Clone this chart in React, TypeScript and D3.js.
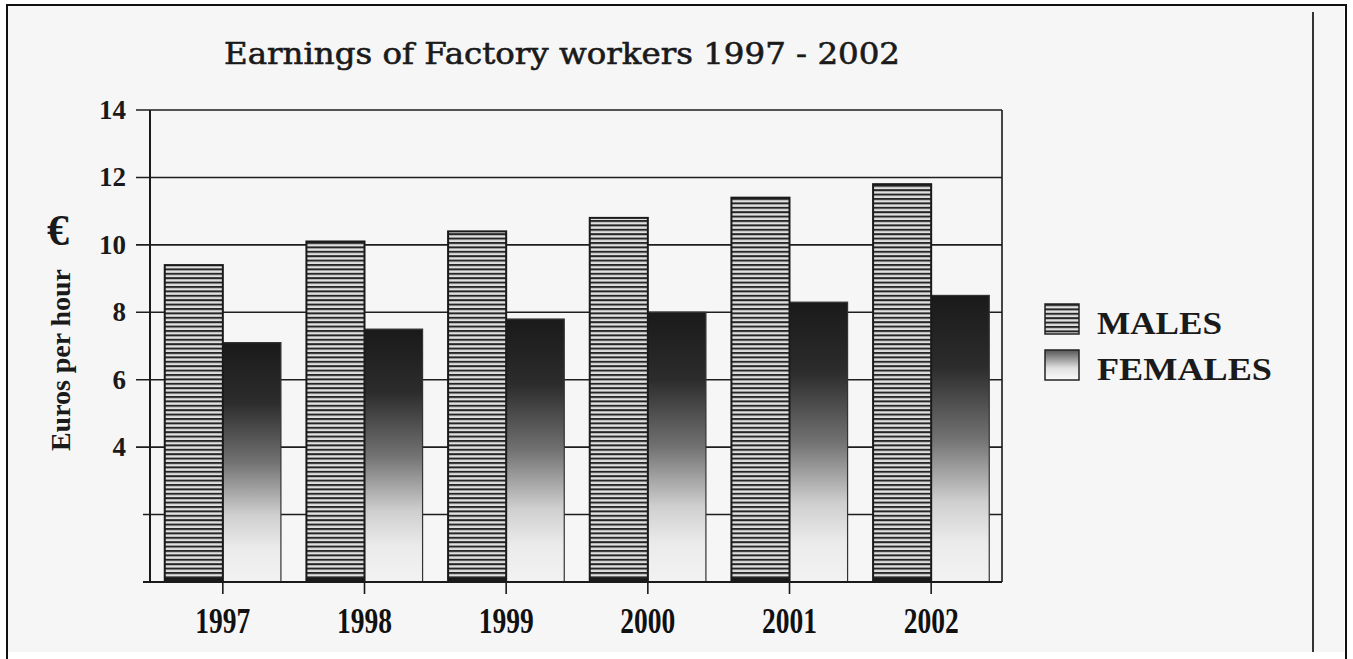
import { useEffect, useRef } from 'react';
import * as d3 from 'd3';

const years = ['1997', '1998', '1999', '2000', '2001', '2002'];
const males = [9.4, 10.1, 10.4, 10.8, 11.4, 11.8];
const females = [7.1, 7.5, 7.8, 8.0, 8.3, 8.5];
const yTicks = [0, 2, 4, 6, 8, 10, 12, 14];
const yLabels = [4, 6, 8, 10, 12, 14];
const seriesNames = ['MALES', 'FEMALES'];

const W = 1353;
const H = 659;

export default function App() {
  const svgRef = useRef<SVGSVGElement>(null);

  useEffect(() => {
    if (!svgRef.current) return;
    const svg = d3.select(svgRef.current);
    svg.selectAll('*').remove();

    const left = 150;
    const right = 1002;
    const top = 110;
    const bottom = 582;
    const serif = '"Liberation Serif", "Times New Roman", serif';

    const x = d3.scaleBand<string>().domain(years).range([152, right]).paddingInner(0.18).paddingOuter(0.09);
    const sub = d3.scaleBand<string>().domain(seriesNames).range([0, x.bandwidth()]);
    const y = d3.scaleLinear().domain([0, 14]).range([bottom, top]);

    // patterns
    const defs = svg.append('defs');
    const stripes = defs
      .append('pattern')
      .attr('id', 'stripes')
      .attr('patternUnits', 'userSpaceOnUse')
      .attr('width', 8)
      .attr('height', 4.4);
    stripes.append('rect').attr('width', 8).attr('height', 4.4).attr('fill', '#e0e0e0');
    stripes.append('rect').attr('y', 0).attr('width', 8).attr('height', 2).attr('fill', '#262626');

    const grad = defs
      .append('linearGradient')
      .attr('id', 'fem')
      .attr('x1', 0)
      .attr('y1', 0)
      .attr('x2', 0)
      .attr('y2', 1);
    [
      [0, '#1a1a1a'],
      [0.25, '#2c2c2c'],
      [0.5, '#727272'],
      [0.72, '#cfcfcf'],
      [0.86, '#ebebeb'],
      [1, '#f2f2f2'],
    ].forEach(([o, c]) => grad.append('stop').attr('offset', o as number).attr('stop-color', c as string));

    const legGrad = defs
      .append('linearGradient')
      .attr('id', 'femLeg')
      .attr('x1', 0)
      .attr('y1', 0)
      .attr('x2', 0)
      .attr('y2', 1);
    legGrad.append('stop').attr('offset', 0).attr('stop-color', '#555');
    legGrad.append('stop').attr('offset', 0.6).attr('stop-color', '#e0e0e0');
    legGrad.append('stop').attr('offset', 1).attr('stop-color', '#fafafa');

    // background + page frame
    svg.append('rect').attr('width', W).attr('height', H).attr('fill', '#fff');
    svg.append('rect').attr('x', 8).attr('y', 6).attr('width', 1336).attr('height', 646).attr('fill', '#f6f6f6');
    svg
      .append('path')
      .attr('d', `M7,${H} V5 H1346 V${H}`)
      .attr('fill', 'none')
      .attr('stroke', '#111')
      .attr('stroke-width', 2);
    svg
      .append('line')
      .attr('x1', 1313)
      .attr('x2', 1313)
      .attr('y1', 12)
      .attr('y2', 652)
      .attr('stroke', '#333')
      .attr('stroke-width', 2);

    // title
    svg
      .append('text')
      .attr('x', 562)
      .attr('y', 64)
      .attr('text-anchor', 'middle')
      .attr('textLength', 676)
      .attr('lengthAdjust', 'spacingAndGlyphs')
      .style('font-family', '"DejaVu Serif", serif')
      .style('font-size', '29px')
      .style('fill', '#1a1a1a')
      .style('stroke', '#1a1a1a')
      .style('stroke-width', 0.6)
      .text('Earnings of Factory workers 1997 - 2002');

    // grid + y ticks
    const g = svg.append('g');
    g.selectAll('.grid')
      .data(yTicks)
      .enter()
      .append('line')
      .attr('x1', (d) => (yLabels.includes(d) ? 136 : 143))
      .attr('x2', right)
      .attr('y1', (d) => y(d))
      .attr('y2', (d) => y(d))
      .attr('stroke', '#1e1e1e')
      .attr('stroke-width', 1.6);

    g.selectAll('.ylab')
      .data(yLabels)
      .enter()
      .append('text')
      .attr('x', 126)
      .attr('y', (d) => y(d) + 9)
      .attr('text-anchor', 'end')
      .style('font-family', serif)
      .style('font-weight', 'bold')
      .style('font-size', '27px')
      .style('fill', '#1a1a1a')
      .text((d) => String(d));

    // bars
    const groups = g
      .selectAll('.grp')
      .data(years)
      .enter()
      .append('g')
      .attr('transform', (d) => `translate(${x(d)},0)`);

    groups
      .append('rect')
      .attr('x', sub('FEMALES')!)
      .attr('y', (_, i) => y(females[i]))
      .attr('width', sub.bandwidth())
      .attr('height', (_, i) => bottom - y(females[i]))
      .attr('fill', 'url(#fem)')
      .attr('stroke', '#333')
      .attr('stroke-width', 1.2);

    groups
      .append('rect')
      .attr('x', sub('MALES')!)
      .attr('y', (_, i) => y(males[i]))
      .attr('width', sub.bandwidth())
      .attr('height', (_, i) => bottom - y(males[i]))
      .attr('fill', 'url(#stripes)')
      .attr('stroke', '#1a1a1a')
      .attr('stroke-width', 2);

    groups
      .append('rect')
      .attr('x', sub('MALES')!)
      .attr('y', bottom - 4)
      .attr('width', sub.bandwidth())
      .attr('height', 4)
      .attr('fill', '#1a1a1a');

    // axes frame
    g.append('line')
      .attr('x1', left)
      .attr('x2', left)
      .attr('y1', top)
      .attr('y2', bottom)
      .attr('stroke', '#1a1a1a')
      .attr('stroke-width', 2);
    g.append('line')
      .attr('x1', right)
      .attr('x2', right)
      .attr('y1', top)
      .attr('y2', bottom)
      .attr('stroke', '#1a1a1a')
      .attr('stroke-width', 1.6);
    g.append('line')
      .attr('x1', 143)
      .attr('x2', right)
      .attr('y1', bottom)
      .attr('y2', bottom)
      .attr('stroke', '#1a1a1a')
      .attr('stroke-width', 2);

    // x ticks + labels
    groups
      .append('line')
      .attr('x1', x.bandwidth() / 2)
      .attr('x2', x.bandwidth() / 2)
      .attr('y1', bottom)
      .attr('y2', bottom + 12)
      .attr('stroke', '#1a1a1a')
      .attr('stroke-width', 1.6);

    groups
      .append('text')
      .attr('x', x.bandwidth() / 2)
      .attr('y', 633)
      .attr('text-anchor', 'middle')
      .attr('textLength', 55)
      .attr('lengthAdjust', 'spacingAndGlyphs')
      .style('font-family', serif)
      .style('font-weight', 'bold')
      .style('font-size', '36px')
      .style('fill', '#111')
      .text((d) => d);

    // y axis title
    svg
      .append('text')
      .attr('transform', 'translate(70,360) rotate(-90)')
      .attr('text-anchor', 'middle')
      .attr('textLength', 182)
      .attr('lengthAdjust', 'spacingAndGlyphs')
      .style('font-family', serif)
      .style('font-weight', 'bold')
      .style('font-size', '27px')
      .style('fill', '#1a1a1a')
      .text('Euros per hour');
    svg
      .append('text')
      .attr('x', 58)
      .attr('y', 245)
      .attr('text-anchor', 'middle')
      .style('font-family', serif)
      .style('font-weight', 'bold')
      .style('font-size', '44px')
      .style('fill', '#1a1a1a')
      .text('€');

    // legend
    const legend = svg.append('g').attr('transform', 'translate(1045,304)');
    seriesNames.forEach((name, i) => {
      const item = legend.append('g').attr('transform', `translate(0,${i * 46})`);
      item
        .append('rect')
        .attr('width', 34)
        .attr('height', 30)
        .attr('fill', i === 0 ? 'url(#stripes)' : 'url(#femLeg)')
        .attr('stroke', '#222')
        .attr('stroke-width', 1.5);
      item
        .append('text')
        .attr('x', 52)
        .attr('y', 30)
        .attr('textLength', name === 'MALES' ? 125 : 175)
        .attr('lengthAdjust', 'spacingAndGlyphs')
        .style('font-family', serif)
        .style('font-size', '32px')
        .style('font-weight', 'bold')
        .style('fill', '#1a1a1a')
        .text(name);
    });
  }, []);

  return (
    <div style={{ position: 'absolute', left: 0, top: 0 }}>
      <svg ref={svgRef} width={W} height={H} style={{ display: 'block' }}></svg>
    </div>
  );
}
